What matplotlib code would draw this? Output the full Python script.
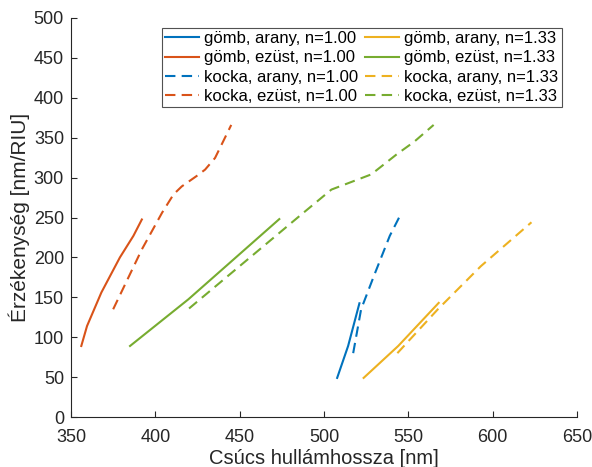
import matplotlib
matplotlib.use("Agg")
import matplotlib.pyplot as plt

plt.rcParams['font.family'] = ['Liberation Sans', 'DejaVu Sans']

# data: (peak wavelength nm, sensitivity nm/RIU)
gomb_arany_100_x = [507.8, 514.3, 521.0]
gomb_arany_100_y = [49, 89, 142.5]
gomb_ezust_100_x = [356.1, 359.5, 368.0, 379.0, 387.0, 392.0]
gomb_ezust_100_y = [89, 114, 156, 200, 227, 247.5]
kocka_arany_100_x = [517.3, 522.0, 530.0, 539.0, 545.0]
kocka_arany_100_y = [80, 135, 179, 227, 252]
kocka_ezust_100_x = [375.0, 392.0, 404.0, 410.8, 415.7, 424.5, 429.5, 435.4, 445.0]
kocka_ezust_100_y = [135, 210, 256, 279, 289, 302, 310, 324.6, 366]

gomb_arany_133_x = [523.5, 544.0, 568.0]
gomb_arany_133_y = [49, 89, 143]
gomb_ezust_133_x = [385.0, 419.6, 473.5]
gomb_ezust_133_y = [89, 147.5, 248]
kocka_arany_133_x = [543.5, 567.5, 593.0, 623.0]
kocka_arany_133_y = [80, 135, 189, 244]
kocka_ezust_133_x = [420.0, 486.7, 504.4, 528.0, 543.0, 553.5, 565.0]
kocka_ezust_133_y = [136, 254, 285, 304, 329, 345, 366]

labels = ["gömb, arany, n=1.00", "gömb, ezüst, n=1.00",
          "kocka, arany, n=1.00", "kocka, ezüst, n=1.00",
          "gömb, arany, n=1.33", "gömb, ezüst, n=1.33",
          "kocka, arany, n=1.33", "kocka, ezüst, n=1.33"]

c_blue = (0, 0.447, 0.741)
c_red = (0.85, 0.325, 0.098)
c_yel = (0.929, 0.694, 0.125)
c_grn = (0.466, 0.674, 0.188)

fig = plt.figure(figsize=(5.92, 4.67), dpi=100)
ax = fig.add_axes([71/592, 1-417/467, (577-71)/592, (417-18)/467])

series = [
    (gomb_arany_100_x, gomb_arany_100_y, c_blue, '-'),
    (gomb_ezust_100_x, gomb_ezust_100_y, c_red, '-'),
    (kocka_arany_100_x, kocka_arany_100_y, c_blue, '--'),
    (kocka_ezust_100_x, kocka_ezust_100_y, c_red, '--'),
    (gomb_arany_133_x, gomb_arany_133_y, c_yel, '-'),
    (gomb_ezust_133_x, gomb_ezust_133_y, c_grn, '-'),
    (kocka_arany_133_x, kocka_arany_133_y, c_yel, '--'),
    (kocka_ezust_133_x, kocka_ezust_133_y, c_grn, '--'),
]
for (x, y, c, ls), lab in zip(series, labels):
    line, = ax.plot(x, y, color=c, lw=1.5, ls=ls, label=lab)
    if ls == '--':
        line.set_dashes((5, 3))

ax.set_xlim(350, 650)
ax.set_ylim(0, 500)
ax.set_xticks(range(350, 651, 50))
ax.set_yticks(range(0, 501, 50))
axc = (0.15, 0.15, 0.15)
for s in ['top', 'right']:
    ax.spines[s].set_visible(False)
for s in ['left', 'bottom']:
    ax.spines[s].set_color(axc)
    ax.spines[s].set_linewidth(0.8)
ax.tick_params(direction='in', length=4, width=0.8, colors=axc, labelsize=13, labelcolor=axc)
ax.tick_params(axis='x', pad=8.5)
ax.tick_params(axis='y', pad=5)
ax.set_xlabel("Csúcs hullámhossza [nm]", fontsize=14.5, color=axc, labelpad=2)
ax.set_ylabel("Érzékenység [nm/RIU]", fontsize=15, color=axc, labelpad=3)

leg = ax.legend(ncol=2, loc='upper right', bbox_to_anchor=(0.97, 0.975), fontsize=12,
                frameon=True, fancybox=False, edgecolor=axc, handlelength=2.0,
                handletextpad=0.35, columnspacing=0.4, labelspacing=0.25,
                borderpad=0.2, borderaxespad=0)
leg.get_frame().set_linewidth(0.8)

fig.savefig("out.png", dpi=100)
